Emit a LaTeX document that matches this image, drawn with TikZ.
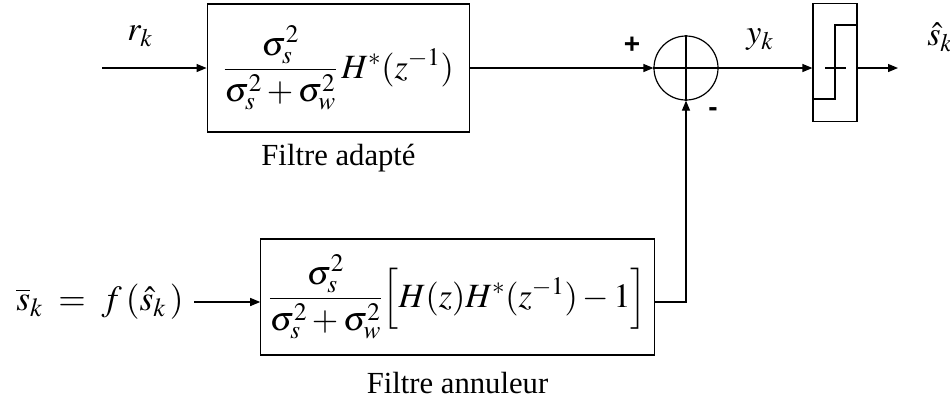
\documentclass[tikz,border=0pt]{standalone}
\usepackage{amsmath}
\usepackage{mathptmx}
\usepackage[no-math]{fontspec}
\setmainfont{Liberation Serif}
\newfontfamily\signfont{Liberation Sans}
\usepackage{tikz}
\usetikzlibrary{arrows.meta, positioning}

\begin{document}
\begin{tikzpicture}[x=0.75pt, y=-0.75pt, >={Triangle[length=7.5pt, width=6pt]}, line width=0.9pt,
    blk/.style={draw, inner sep=0pt},
    big/.style={font=\fontsize{23}{27}\selectfont},
    bigger/.style={font=\fontsize{25.5}{30}\selectfont},
    sign/.style={font=\fontsize{21}{21}\signfont\bfseries, inner sep=0pt}]
  \useasboundingbox (0,0) rectangle (950,401);
  % Matched filter
  \node[blk, bigger, minimum width=197pt, minimum height=96pt] (adapt) at (338.5,68)
    {$\dfrac{\sigma_s^2}{\sigma_s^2+\sigma_w^2}\,H^*(z^{-1})$};
  \node[big, inner sep=0pt, below=8pt of adapt] (adaptlbl) {Filtre adapté};
  \coordinate (in) at (102,68);
  \node[bigger] (rk) at (140,36) {$r_k$};
  % Summing junction
  \node[draw, circle, inner sep=0pt, minimum size=48pt] (sum) at (686,68) {};
  \draw (sum.north) -- (sum.south) (sum.west) -- (sum.east);
  \node[sign] (plus) at (632,45) {+};
  \node[sign] (minus) at (713,112) {-};
  % Decision device
  \node[blk, minimum width=33pt, minimum height=88pt] (dec) at (835,62.5) {};
  \draw (825,68) -- (846,68);
  \draw (dec.west |- 0,99) -| (835,25) -- (dec.east |- 0,25);
  \node[bigger] (yk) at (760,40) {$y_k$};
  \coordinate (out) at (898,68);
  \node[bigger] (shat) at (940,37) {$\hat{s}_k$};
  % Cancelling filter
  \node[blk, bigger, minimum width=295pt, minimum height=87pt] (annul) at (457.5,297)
    {$\dfrac{\sigma_s^2}{\sigma_s^2+\sigma_w^2}\Big[H(z)H^*(z^{-1})-1\Big]$};
  \node[big, inner sep=0pt, below=12pt of annul] (annullbl) {Filtre annuleur};
  \node[font=\fontsize{26.5}{30}\selectfont] (sbar) at (100,302)
    {$\overline{s}_k \;=\; f\,(\hat{s}_k\,)$};
  % Connections
  \draw[->] (in) -- (adapt);
  \draw[->] (adapt) -- (sum);
  \draw[->] (sum.east) -- (sum.east -| dec.west);
  \draw[->] (sum.east -| dec.east) -- (out);
  \draw[->] ([xshift=4pt]sbar.east) -- (sbar.east -| annul.west);
  \draw[->] ([yshift=-3.75pt]annul.east) -| (sum.south);
\end{tikzpicture}
\end{document}
